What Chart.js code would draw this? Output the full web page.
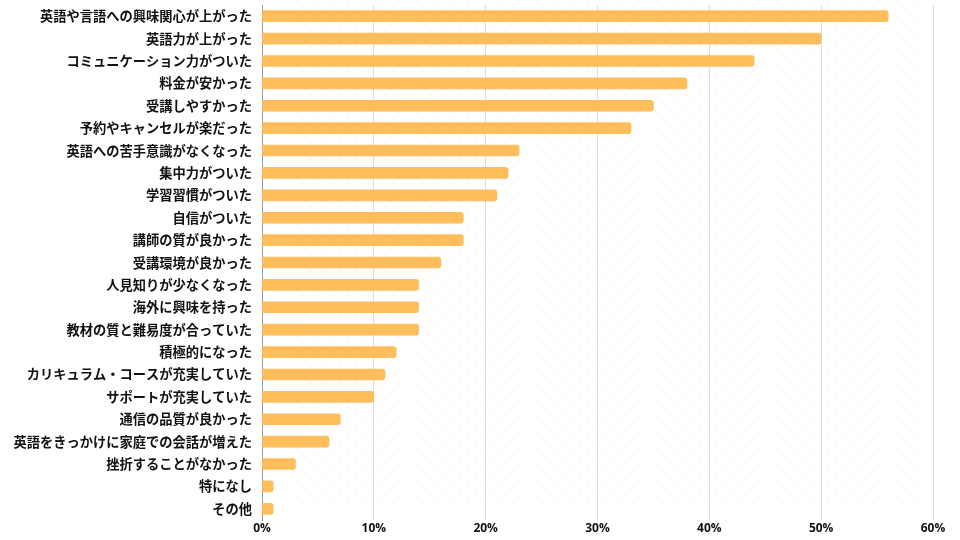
<!DOCTYPE html>
<html>
<head>
<meta charset="utf-8">
<script src="https://cdn.jsdelivr.net/npm/chart.js@4/dist/chart.umd.min.js"></script>
<style>
  html, body { margin: 0; padding: 0; background: #fff; }
  #wrap { width: 960px; height: 540px; }
</style>
</head>
<body>
<div id="wrap"><canvas id="bar_chart"></canvas></div>
<script>
var categories = [
    '英語や言語への興味関心が上がった',
    '英語力が上がった',
    'コミュニケーション力がついた',
    '料金が安かった',
    '受講しやすかった',
    '予約やキャンセルが楽だった',
    '英語への苦手意識がなくなった',
    '集中力がついた',
    '学習習慣がついた',
    '自信がついた',
    '講師の質が良かった',
    '受講環境が良かった',
    '人見知りが少なくなった',
    '海外に興味を持った',
    '教材の質と難易度が合っていた',
    '積極的になった',
    'カリキュラム・コースが充実していた',
    'サポートが充実していた',
    '通信の品質が良かった',
    '英語をきっかけに家庭での会話が増えた',
    '挫折することがなかった',
    '特になし',
    'その他'
];
var values = [56, 50, 44, 38, 35, 33, 23, 22, 21, 18, 18, 16, 14, 14, 14, 12, 11, 10, 7, 6, 3, 1, 1];
var x_ticks = [0, 10, 20, 30, 40, 50, 60];

var bar_color = '#FFBE5C';
var label_font = '"Noto Sans CJK JP", "Noto Sans", sans-serif';
var tick_font = '"Open Sans", "Noto Sans", sans-serif';

// faint dotted decoration behind the bars
var dots_plugin = {
    id: 'dots',
    beforeDraw: function (chart) {
        var ctx = chart.ctx;
        ctx.save();
        ctx.fillStyle = 'rgba(255,190,92,0.13)';
        var row = 0;
        for (var y = 7; y <= 506; y += 8) {
            var off = (row % 2) ? 7.5 : 0;
            for (var x = 303 + off; x <= 925; x += 15) {
                ctx.beginPath();
                ctx.arc(x, y, 1.4, 0, Math.PI * 2);
                ctx.fill();
            }
            row++;
        }
        ctx.restore();
    }
};

var ctx = document.getElementById('bar_chart').getContext('2d');
var myChart = new Chart(ctx, {
    type: 'bar',
    data: {
        labels: categories,
        datasets: [{
            data: values,
            backgroundColor: bar_color,
            barThickness: 11,
            borderRadius: 3,
            borderSkipped: 'start'
        }]
    },
    options: {
        indexAxis: 'y',
        responsive: true,
        maintainAspectRatio: false,
        animation: false,
        layout: { padding: { top: 5, right: 27, left: 0, bottom: 0 } },
        plugins: {
            legend: { display: false },
            tooltip: { enabled: false }
        },
        scales: {
            x: {
                min: 0,
                max: 60,
                afterBuildTicks: function (scale) {
                    scale.ticks = x_ticks.map(function (v) { return { value: v }; });
                },
                afterFit: function (scale) {
                    scale.height = 20;
                    scale.paddingLeft = 0;
                    scale.paddingRight = 0;
                },
                grid: { color: '#dddddd', lineWidth: 1, drawTicks: false },
                border: { display: false },
                ticks: {
                    padding: 1,
                    color: '#111',
                    font: { family: tick_font, size: 12, weight: 'bold' },
                    callback: function (v) { return v + '%'; }
                }
            },
            y: {
                afterFit: function (scale) {
                    scale.width = 262;
                    scale.paddingTop = 0;
                    scale.paddingBottom = 0;
                },
                grid: { display: false, drawTicks: false },
                border: { display: true, color: '#999999', width: 1 },
                ticks: {
                    padding: 10,
                    color: '#111',
                    autoSkip: false,
                    font: { family: label_font, size: 13.25, weight: 'bold' }
                }
            }
        }
    },
    plugins: [dots_plugin]
});
</script>
</body>
</html>
